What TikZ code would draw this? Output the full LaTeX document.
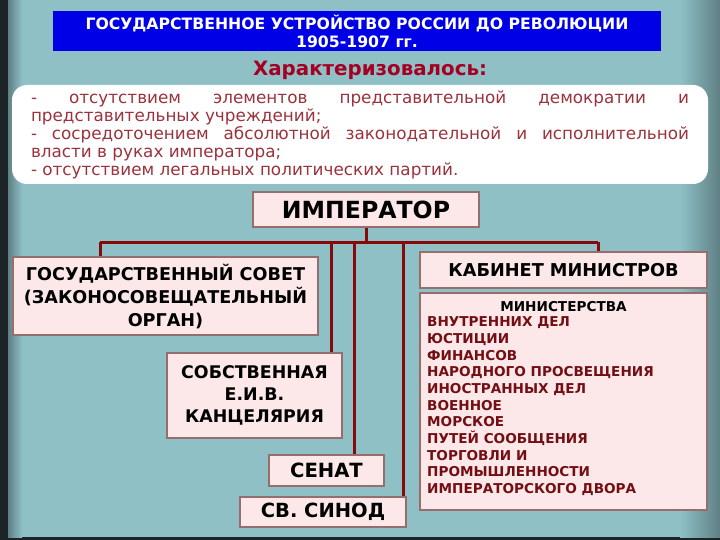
\documentclass[tikz,border=0pt]{standalone}
\usepackage{fontspec}
\setmainfont{DejaVu Sans}
\newcommand{\fsz}[2]{\fontsize{#1}{#2}\selectfont}
\definecolor{bgteal}{RGB}{142,192,198}
\definecolor{bgedge}{RGB}{95,128,132}
\definecolor{bgdark}{RGB}{28,36,40}
\definecolor{titleblue}{RGB}{0,0,230}
\definecolor{crimson}{RGB}{165,0,35}
\definecolor{rosetext}{RGB}{155,50,60}
\definecolor{boxfill}{RGB}{252,232,232}
\definecolor{boxedge}{RGB}{150,110,110}
\definecolor{connred}{RGB}{135,10,10}
\definecolor{listred}{RGB}{115,15,20}
\begin{document}
\begin{tikzpicture}[x=1pt,y=-1pt,
  pinkbox/.style={draw=boxedge, line width=1.8pt, fill=boxfill, inner sep=0pt, align=center, font=\bfseries},
  conn/.style={draw=connred, line width=3pt}]
\useasboundingbox (0,0) rectangle (720,540);
% background
\fill[bgdark] (0,0) rectangle (720,540);
\fill[bgteal] (8,0) rectangle (720,537);
\shade[left color=bgteal, right color=bgedge] (680,0) rectangle (720,537);
\shade[left color=bgedge, right color=bgteal] (8,0) rectangle (22,537);
% title
\node[fill=titleblue, minimum width=608pt, minimum height=40pt, inner sep=0pt, text=white, align=center, font=\bfseries\fsz{15.7}{18}] (title) at (357,31) {ГОСУДАРСТВЕННОЕ УСТРОЙСТВО РОССИИ ДО РЕВОЛЮЦИИ\\1905-1907 гг.};
\node[text=crimson, font=\bfseries\fsz{19.8}{22}] (char) at (370,70) {Характеризовалось:};
% features
\node[fill=white, rounded corners=15pt, minimum width=696pt, minimum height=99pt, inner xsep=19pt, inner ysep=0pt, text width=658pt, align=justify, text=rosetext, font=\fsz{16.8}{18}] (feat) at (360,134.5)
{\hyphenpenalty=10000 - отсутствием элементов представительной демократии и\linebreak представительных учреждений;\newline - сосредоточением абсолютной законодательной и исполнительной\linebreak власти в руках императора;\newline - отсутствием легальных политических партий.};
% boxes
\node[pinkbox, minimum width=226pt, minimum height=35pt, font=\bfseries\fsz{23.6}{25}] (imp) at (366,209.5) {ИМПЕРАТОР};
\node[pinkbox, minimum width=305pt, minimum height=78pt, font=\bfseries\fsz{17.6}{23}] (gs) at (165.5,296) {ГОСУДАРСТВЕННЫЙ СОВЕТ\\(ЗАКОНОСОВЕЩАТЕЛЬНЫЙ\\ОРГАН)};
\node[pinkbox, minimum width=175pt, minimum height=85pt, font=\bfseries\fsz{17.4}{22}] (sob) at (254.5,395.5) {СОБСТВЕННАЯ\\Е.И.В.\\КАНЦЕЛЯРИЯ};
\node[pinkbox, minimum width=115pt, minimum height=31pt, font=\bfseries\fsz{19.6}{22}] (sen) at (326.5,470.5) {СЕНАТ};
\node[pinkbox, minimum width=166pt, minimum height=30pt, font=\bfseries\fsz{19.5}{22}] (sin) at (323,512) {СВ. СИНОД};
\node[pinkbox, minimum width=287pt, minimum height=36pt, font=\bfseries\fsz{17.7}{20}] (kab) at (563.5,270) {КАБИНЕТ МИНИСТРОВ};
\node[pinkbox, minimum width=287pt, minimum height=217pt] (min) at (563.5,401.5) {};
\node[font=\bfseries\fsz{13.6}{15}, inner sep=0pt] (mintitle) at (563.5,307) {МИНИСТЕРСТВА};
\node[anchor=north west, inner sep=0pt, align=left, text=listred, font=\bfseries\fsz{13.6}{16.7}] (minlist) at (427,316.5)
{ВНУТРЕННИХ ДЕЛ\\ЮСТИЦИИ\\ФИНАНСОВ\\НАРОДНОГО ПРОСВЕЩЕНИЯ\\ИНОСТРАННЫХ ДЕЛ\\ВОЕННОЕ\\МОРСКОЕ\\ПУТЕЙ СООБЩЕНИЯ\\ТОРГОВЛИ И\\ПРОМЫШЛЕННОСТИ\\ИМПЕРАТОРСКОГО ДВОРА};
% connectors
\coordinate (b0) at (366,242);
\coordinate (b1) at (100,242);
\coordinate (b2) at (331,242);
\coordinate (b3) at (354,242);
\coordinate (b4) at (403,242);
\coordinate (b5) at (598,242);
\draw[conn] (imp.south) -- (b0);
\draw[conn] (b1) -- (b5);
\draw[conn] (b1) -- (b1 |- gs.north);
\draw[conn] (b2) -- (b2 |- sob.north);
\draw[conn] (b3) -- (b3 |- sen.north);
\draw[conn] (b4) -- (b4 |- sin.north);
\draw[conn] (b5) -- (b5 |- kab.north);
\end{tikzpicture}
\end{document}
